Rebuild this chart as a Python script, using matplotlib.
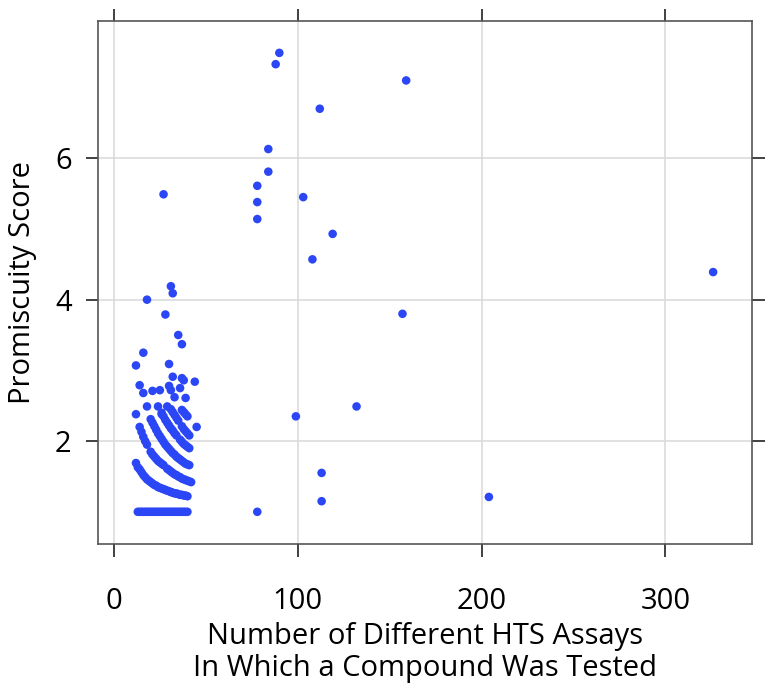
import matplotlib
matplotlib.use("Agg")
import matplotlib.pyplot as plt

# compounds tested in few assays: flat row at the minimum score
row_x = list(range(13, 41))
row_y = [1.0] * len(row_x)

# arcs in the dense cluster
arc_a_x = [12, 13, 14, 15, 16, 17, 18, 19, 20, 21, 22, 23, 24, 25, 26, 27, 28,
           29, 30, 31, 32, 33, 34, 35, 36, 37, 38, 39, 40]
arc_a_y = [1.69, 1.63, 1.60, 1.56, 1.52, 1.49, 1.46, 1.44, 1.42, 1.40, 1.38, 1.37,
           1.35, 1.34, 1.33, 1.32, 1.31, 1.30, 1.29, 1.28, 1.27, 1.26, 1.26, 1.25,
           1.24, 1.24, 1.23, 1.23, 1.22]

arc_b_x = [20, 21, 22, 23, 24, 25, 26, 27, 29, 30, 31, 32, 33, 34, 35, 36, 37,
           38, 39, 40, 41, 42]
arc_b_y = [1.85, 1.81, 1.78, 1.75, 1.72, 1.70, 1.68, 1.66, 1.61, 1.59, 1.57, 1.55,
           1.53, 1.52, 1.50, 1.49, 1.47, 1.46, 1.45, 1.44, 1.43, 1.42]

arc_c_x = [14, 15, 16, 17, 18]
arc_c_y = [2.20, 2.13, 2.06, 2.00, 1.95]

arc_d_x = [20, 21, 22, 23, 24, 25, 26, 27, 28, 29, 30, 31, 32, 33, 34, 35, 36,
           37, 38, 39, 40, 41]
arc_d_y = [2.31, 2.26, 2.21, 2.16, 2.11, 2.07, 2.03, 1.99, 1.95, 1.92, 1.89, 1.86,
           1.83, 1.81, 1.78, 1.76, 1.74, 1.72, 1.70, 1.68, 1.67, 1.66]

arc_e_x = [26, 27, 28, 29, 30, 31, 32, 33, 34, 36, 37, 38, 39, 40, 41]
arc_e_y = [2.40, 2.35, 2.30, 2.26, 2.22, 2.18, 2.15, 2.11, 2.08, 2.02, 1.99, 1.96,
           1.94, 1.92, 1.90]

arc_f_x = [31, 32, 33, 34, 35, 37, 38, 39, 40, 41]
arc_f_y = [2.45, 2.41, 2.37, 2.33, 2.29, 2.21, 2.17, 2.14, 2.11, 2.08]

arc_g_x = [37, 38, 39, 40]
arc_g_y = [2.44, 2.41, 2.38, 2.35]

# loose points around the cluster
loose_x = [12, 16, 18, 28, 31, 32, 35, 37, 30, 32, 37, 38, 44, 14, 16, 21, 25,
           30, 31, 36, 33, 39, 18, 24, 29, 12, 26, 45, 27]
loose_y = [3.07, 3.25, 4.00, 3.79, 4.19, 4.09, 3.50, 3.37, 3.09, 2.91, 2.89, 2.86,
           2.84, 2.79, 2.68, 2.71, 2.72, 2.78, 2.72, 2.75, 2.62, 2.61, 2.49, 2.49,
           2.49, 2.38, 2.38, 2.20, 5.49]

# compounds tested in many assays
wide_x = [90, 88, 159, 112, 84, 84, 78, 78, 78, 103, 119, 108, 157, 132, 99,
          113, 113, 78, 204, 326]
wide_y = [7.49, 7.33, 7.10, 6.70, 6.13, 5.81, 5.61, 5.38, 5.14, 5.45, 4.93, 4.57,
          3.80, 2.49, 2.35, 1.55, 1.15, 1.00, 1.21, 4.39]

x_ticks = [0, 100, 200, 300]
y_ticks = [2, 4, 6]

all_x = (row_x + arc_a_x + arc_b_x + arc_c_x + arc_d_x + arc_e_x + arc_f_x
         + arc_g_x + loose_x + wide_x)
all_y = (row_y + arc_a_y + arc_b_y + arc_c_y + arc_d_y + arc_e_y + arc_f_y
         + arc_g_y + loose_y + wide_y)

plt.rcParams['font.family'] = ['Open Sans', 'DejaVu Sans']

fig = plt.figure(figsize=(7.71, 6.92), dpi=100)
ax = fig.add_axes([0.127, 0.214, 0.848, 0.756])

ax.set_xticks(x_ticks)
ax.set_yticks(y_ticks)
ax.grid(True, color='#dcdcdc', linewidth=1.2)
ax.set_axisbelow(True)

ax.scatter(all_x, all_y, s=38, color='#2b46f4', edgecolors='none', zorder=3)

ax.set_xlim(-8.7, 347)
ax.set_ylim(0.546, 7.944)

for side in ax.spines.values():
    side.set_color('#555555')
    side.set_linewidth(1.2)

ax.tick_params(axis='both', direction='out', length=9, width=1.3, color='#333333',
               labelsize=21, top=True, right=True)
ax.tick_params(axis='x', pad=22)
ax.tick_params(axis='y', pad=10)
ax.set_xlabel('Number of Different HTS Assays\nIn Which a Compound Was Tested',
              fontsize=21, labelpad=4, linespacing=1.15)
ax.set_ylabel('Promiscuity Score', fontsize=21, labelpad=13)

fig.savefig('out.png', dpi=100)
